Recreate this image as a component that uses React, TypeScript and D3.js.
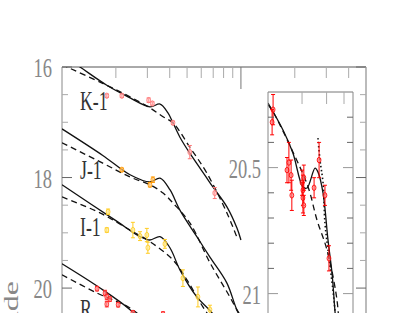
import React from "react";
import * as d3 from "d3";

const W = 399;
const H = 313;

// model light curves, [days, magnitude]
const kSolid = [[1, 15.78], [1.26, 16.0], [1.78, 16.33], [2.34, 16.54], [3.1, 16.72], [3.53, 16.67], [3.91, 16.83], [4.17, 17.01], [4.56, 17.27], [5.18, 17.56], [6.45, 18.01], [6.97, 18.17], [8.35, 18.53], [9.49, 18.91], [10, 19.13]];
const kDash = [[1, 15.95], [1.07, 16.0], [1.7, 16.3], [2.4, 16.54], [3.1, 16.74], [3.67, 16.9], [4.17, 17.01], [5.18, 17.45], [6.45, 17.92], [8.35, 18.64], [9.6, 19.12]];
const jSolid = [[1, 17.12], [1.69, 17.6], [2.4, 17.95], [3.1, 18.08], [3.53, 18.01], [4.01, 18.22], [4.56, 18.59], [5.67, 19.07], [6.71, 19.44], [8.35, 19.91], [9.49, 20.39], [10, 20.5]];
const jDash = [[1, 17.37], [1.69, 17.74], [2.4, 17.99], [3.1, 18.13], [3.67, 18.28], [4.17, 18.46], [5.18, 18.82], [6.71, 19.54], [8.67, 20.16], [9.6, 20.43], [10, 20.55]];
const iSolid = [[1, 18.13], [2, 18.78], [2.73, 19.07], [3.1, 19.13], [3.53, 19.07], [4.01, 19.27], [4.56, 19.67], [5.67, 20.16], [6.9, 20.45], [8.35, 20.9], [10, 21.4]];
const iDash = [[1, 18.35], [1.63, 18.64], [2.4, 18.95], [3.1, 19.16], [4.17, 19.49], [4.99, 19.85], [6.13, 20.34], [7.5, 20.75], [10, 21.4]];
const rSolid = [[1, 19.56], [1.6, 19.98], [2.4, 20.39], [3.2, 20.8]];
const rDash = [[1, 19.76], [1.57, 20.09], [2.4, 20.36], [3.2, 20.7]];

// photometry, [days, mag, error]
const kPts = [[1.78, 16.52, 0.03], [2.16, 16.52, 0.03], [3.05, 16.6, 0.04], [3.2, 16.66, 0.03], [4.17, 17.01, 0.03], [5.18, 17.54, 0.12], [7.14, 18.28, 0.1]];
const jPts = [[2.16, 17.86, 0.03], [3.1, 18.13, 0.04], [3.22, 18.04, 0.05]];
const iPts = [[1.81, 18.62, 0.05], [1.78, 18.95, 0.04], [2.49, 18.95, 0.14], [2.73, 19.06, 0.08], [2.98, 19.04, 0.12], [3.02, 19.27, 0.1], [3.76, 19.2, 0.08], [4.74, 19.82, 0.15], [5.75, 20.16, 0.18], [6.71, 20.39, 0.08]];
const rPts = [[1.57, 20.01, 0.04], [1.74, 20.09, 0.05], [1.78, 20.16, 0.05], [1.78, 20.29, 0.05], [1.85, 20.2, 0.04], [2.06, 20.3, 0.04], [2.49, 20.45, 0.04], [3.67, 20.47, 0.04]];

// inset (R band, early times)
const insSolid = [[1.14, 20.244], [1.46, 20.351], [1.72, 20.442], [2.03, 20.577], [2.17, 20.581], [2.48, 20.502], [2.6, 20.517], [2.83, 20.601], [3.07, 20.787], [3.28, 20.918], [3.44, 21.065], [3.6, 21.2]];
const insDash = [[1.14, 20.25], [1.24, 20.279], [1.72, 20.438], [2.21, 20.577], [2.56, 20.708], [3.02, 20.827], [3.56, 21.025], [3.75, 21.2]];
const insDot = [[2.6, 20.383], [2.69, 20.47], [2.83, 20.561], [2.92, 20.72], [3.07, 20.827], [3.33, 20.986], [3.44, 21.065], [3.56, 21.2]];
const insPts = [[1.24, 20.27, 0.06], [1.22, 20.32, 0.05], [1.56, 20.51, 0.05], [1.61, 20.48, 0.08], [1.67, 20.53, 0.06], [1.69, 20.61, 0.06], [2.0, 20.56, 0.05], [2.03, 20.59, 0.06], [2.03, 20.62, 0.06], [2.06, 20.54, 0.05], [2.06, 20.65, 0.04], [2.44, 20.58, 0.04], [2.65, 20.47, 0.07], [2.92, 20.61, 0.04], [3.12, 20.86, 0.05]];

const bandLabels = ["K-1", "J-1", "I-1", "R"];
const bandLabelMags = [16.78, 18.03, 19.05, 20.55];
const mainYTicks = d3.range(16, 21.51, 0.5);
const mainXTicks = [2, 3, 4, 5, 6, 7, 8, 9, 10, 20, 30, 40];
const mainYLabels = [16, 18, 20];
const insYTicks = d3.range(20.3, 21.21, 0.1).map(v => Math.round(v * 10) / 10);
const insXTicks = [2, 3, 4];
const insYLabels = ["20.5", "21"];

const SX = 0.66; // type in the figure is squeezed sideways
const FONT = "'Liberation Serif', 'DejaVu Serif', serif";

function Txt({ x, y, anchor = "start", size = 27, fill = "#222", children }: any) {
  return (
    <text transform={`translate(${x},${y}) scale(${SX},1)`} textAnchor={anchor}
      fontSize={size} fontFamily={FONT} fill={fill}>{children}</text>
  );
}

function Points({ data, xs, ys, color, fill }: any) {
  return (
    <g>
      {data.map((d: number[], i: number) => {
        const cx = xs(d[0]), cy = ys(d[1]);
        const y0 = ys(d[1] - d[2]), y1 = ys(d[1] + d[2]);
        return (
          <g key={i} stroke={color} strokeWidth={1}>
            <line x1={cx} x2={cx} y1={y0} y2={y1} />
            <line x1={cx - 2} x2={cx + 2} y1={y0} y2={y0} />
            <line x1={cx - 2} x2={cx + 2} y1={y1} y2={y1} />
            <ellipse cx={cx} cy={cy} rx={1.9} ry={2.7} fill={fill} fillOpacity={0.5} strokeOpacity={0.85} />
          </g>
        );
      })}
    </g>
  );
}

export default function App() {
  const x = d3.scaleLog().domain([1, 50]).range([62, 366]);
  const y = d3.scaleLinear().domain([16, 21.5]).range([67, 371]);
  const xi = d3.scaleLog().domain([1.14, 4.64]).range([268, 353]);
  const yi = d3.scaleLinear().domain([20.2, 21.2]).range([92, 344]);

  const line = d3.line<number[]>().x(d => x(d[0])).y(d => y(d[1])).curve(d3.curveCatmullRom.alpha(0.5));
  const lineI = d3.line<number[]>().x(d => xi(d[0])).y(d => yi(d[1])).curve(d3.curveCatmullRom.alpha(0.5));

  const solids = [kSolid, jSolid, iSolid, rSolid];
  const dashes = [kDash, jDash, iDash, rDash];

  return (
    <svg width={W} height={H} style={{ position: "absolute", left: 0, top: 0, background: "#fff" }}>
      <defs>
        <clipPath id="mainClip"><rect x={62} y={67} width={304} height={300} /></clipPath>
        <clipPath id="insClip"><rect x={268} y={92} width={85} height={260} /></clipPath>
      </defs>

      {/* y title, mostly below the visible area */}
      <text transform={`translate(18,281) scale(${SX},1) rotate(-90)`} textAnchor="end"
        fontSize={32} fontFamily={FONT} fill="#888">Magnitude</text>

      {/* main frame */}
      <line x1={62} x2={366} y1={67} y2={67} stroke="#555" />
      <line x1={62} x2={62} y1={67} y2={H} stroke="#888" />
      <line x1={366} x2={366} y1={67} y2={H} stroke="#bbb" strokeWidth={2} />
      {mainYTicks.map(m => {
        const major = m % 2 === 0;
        const len = major ? 10 : 6;
        return (
          <g key={m} stroke={major ? "#666" : "#aaa"}>
            <line x1={62} x2={62 + len} y1={y(m)} y2={y(m)} />
            <line x1={366 - len} x2={366} y1={y(m)} y2={y(m)} />
          </g>
        );
      })}
      {mainXTicks.map(t => (
        <line key={t} x1={x(t)} x2={x(t)} y1={67} y2={67 + (t === 10 ? 22 : 11)} stroke={t === 10 ? "#777" : "#aaa"} />
      ))}
      {mainYLabels.map(m => (
        <Txt key={m} x={52} y={y(m) + 10} anchor="end" size={28} fill="#888">{m}</Txt>
      ))}

      <g clipPath="url(#mainClip)">
        {solids.map((d, i) => <path key={"s" + i} d={line(d) || ""} fill="none" stroke="#111" strokeWidth={1.3} />)}
        {dashes.map((d, i) => <path key={"d" + i} d={line(d) || ""} fill="none" stroke="#111" strokeWidth={1.3} strokeDasharray="6,4" />)}
        <Points data={kPts} xs={x} ys={y} color="#f77" fill="#fbb" />
        <Points data={jPts} xs={x} ys={y} color="#f90" fill="#fc8" />
        <Points data={iPts} xs={x} ys={y} color="#fc2" fill="#fe9" />
        <Points data={rPts} xs={x} ys={y} color="#f22" fill="#f99" />
      </g>

      {bandLabels.map((b, i) => (
        <Txt key={b} x={80} y={y(bandLabelMags[i])} size={27} fill="#333">{b}</Txt>
      ))}

      {/* inset */}
      <rect x={268} y={92} width={85} height={H - 92} fill="#fff" />
      <g clipPath="url(#insClip)">
        <path d={lineI(insSolid) || ""} fill="none" stroke="#111" strokeWidth={1.3} />
        <path d={lineI(insDash) || ""} fill="none" stroke="#111" strokeWidth={1.3} strokeDasharray="6,4" />
        <path d={lineI(insDot) || ""} fill="none" stroke="#111" strokeWidth={1.6} strokeDasharray="1.5,2.5" />
        <Points data={insPts} xs={xi} ys={yi} color="#f00" fill="#f88" />
      </g>
      <line x1={268} x2={353} y1={92} y2={92} stroke="#777" />
      <line x1={268} x2={268} y1={92} y2={H} stroke="#888" />
      <line x1={353} x2={353} y1={92} y2={H} stroke="#888" />
      {insYTicks.map(m => {
        const major = Math.abs(m - 20.5) < 1e-6 || Math.abs(m - 21) < 1e-6;
        const len = major ? 10 : 6;
        return (
          <g key={m} stroke={major ? "#999" : "#666"}>
            <line x1={268} x2={268 + len} y1={yi(m)} y2={yi(m)} />
            <line x1={353 - len} x2={353} y1={yi(m)} y2={yi(m)} />
          </g>
        );
      })}
      {insXTicks.map(t => (
        <line key={t} x1={xi(t)} x2={xi(t)} y1={92} y2={104} stroke="#aaa" />
      ))}
      {insYLabels.map(l => (
        <Txt key={l} x={261} y={yi(+l) + 10} anchor="end" size={28} fill="#888">{l}</Txt>
      ))}
    </svg>
  );
}
